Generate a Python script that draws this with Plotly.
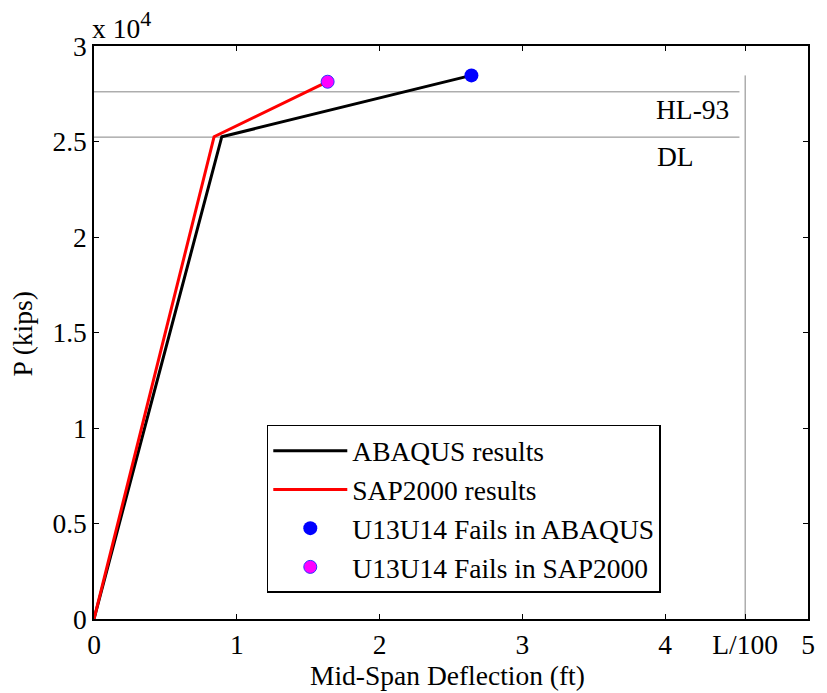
import plotly.graph_objects as go

# Load-deflection curves (deflection in ft, load in kips)
abaqus_x = [0.0, 0.895, 2.643]
abaqus_y = [0, 25250, 28460]
sap_x = [0.0, 0.841, 1.636]
sap_y = [0, 25250, 28130]

# Failure points of member U13U14
fail_abaqus = (2.643, 28460)
fail_sap = (1.636, 28130)

# Reference load levels and deflection limit
dl_load = 25230
hl93_load = 27600
ref_line_end = 4.52
l100_defl = 4.56
l100_top = 28460

x_tickvals = [0, 1, 2, 3, 4, l100_defl, 5]
x_ticktext = ["0", "1", "2", "3", "4", "L/100", "5"]
y_tickvals = [0, 5000, 10000, 15000, 20000, 25000, 30000]
y_ticktext = ["0", "0.5", "1", "1.5", "2", "2.5", "3"]

FONT = "'Liberation Serif'"
FS = 27.5
GRAY = "#858585"

fig = go.Figure()

# Reference lines
fig.add_trace(go.Scatter(x=[0, ref_line_end], y=[hl93_load, hl93_load], mode="lines",
                         line=dict(color=GRAY, width=1), showlegend=False, hoverinfo="skip"))
fig.add_trace(go.Scatter(x=[0, ref_line_end], y=[dl_load, dl_load], mode="lines",
                         line=dict(color=GRAY, width=1), showlegend=False, hoverinfo="skip"))
fig.add_trace(go.Scatter(x=[l100_defl, l100_defl], y=[0, l100_top], mode="lines",
                         line=dict(color=GRAY, width=1), showlegend=False, hoverinfo="skip"))

fig.add_trace(go.Scatter(x=abaqus_x, y=abaqus_y, mode="lines", name="ABAQUS results",
                         line=dict(color="black", width=3)))
fig.add_trace(go.Scatter(x=sap_x, y=sap_y, mode="lines", name="SAP2000 results",
                         line=dict(color="#ff0000", width=3)))
fig.add_trace(go.Scatter(x=[fail_abaqus[0]], y=[fail_abaqus[1]], mode="markers",
                         name="U13U14 Fails in ABAQUS",
                         marker=dict(color="#0000ff", size=14, line=dict(width=0))))
fig.add_trace(go.Scatter(x=[fail_sap[0]], y=[fail_sap[1]], mode="markers",
                         name="U13U14 Fails in SAP2000",
                         marker=dict(color="#ff00ff", size=13, line=dict(color="#3030ff", width=1))))

fig.add_annotation(x=4.19, y=26680, text="HL-93", showarrow=False,
                   xanchor="center", yanchor="middle",
                   font=dict(family=FONT, size=FS, color="black"))
fig.add_annotation(x=4.075, y=24210, text="DL", showarrow=False,
                   xanchor="center", yanchor="middle",
                   font=dict(family=FONT, size=FS, color="black"))
fig.add_annotation(x=0, y=1, xref="paper", yref="paper",
                   text="x 10<sup><span style='font-size:22px'>4</span></sup>",
                   showarrow=False, xanchor="left", yanchor="bottom", xshift=-4, yshift=0,
                   font=dict(family=FONT, size=FS, color="black"))

# Axis titles
fig.add_annotation(x=0.5, y=0, xref="paper", yref="paper", text="Mid-Span Deflection (ft)",
                   showarrow=False, xanchor="center", yanchor="middle", xshift=-4, yshift=-56,
                   font=dict(family=FONT, size=FS, color="black"))
fig.add_annotation(x=0, y=0.5, xref="paper", yref="paper", text="P (kips)", textangle=-90,
                   showarrow=False, xanchor="center", yanchor="middle", xshift=-72, yshift=-2,
                   font=dict(family=FONT, size=FS, color="black"))

axis_common = dict(showgrid=False, zeroline=False, showline=True, linecolor="black",
                   linewidth=1.5, mirror="ticks", ticks="inside", ticklen=5,
                   tickcolor="black", tickfont=dict(family=FONT, size=FS, color="black"))

fig.update_xaxes(range=[0, 5], tickvals=x_tickvals, ticktext=x_ticktext, **axis_common)
fig.update_yaxes(range=[0, 30000], tickvals=y_tickvals, ticktext=y_ticktext, **axis_common)

fig.update_layout(
    width=827, height=693,
    margin=dict(l=94, r=13, t=46, b=74),
    plot_bgcolor="white", paper_bgcolor="white",
    font=dict(family=FONT, size=FS, color="black"),
    legend=dict(x=0.242, y=0.339, xanchor="left", yanchor="top",
                bordercolor="black", borderwidth=1.5, bgcolor="white",
                font=dict(family=FONT, size=27.5, color="black"),
                itemwidth=74, tracegroupgap=0),
)

fig.write_html("out.html")
